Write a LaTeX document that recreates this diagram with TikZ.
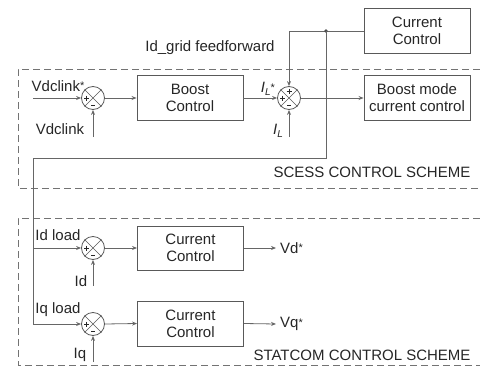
\documentclass[tikz,border=0pt]{standalone}
\usepackage{fontspec}
\setmainfont{Liberation Sans}
\usetikzlibrary{arrows.meta}
\begin{document}
\begin{tikzpicture}[x=1pt,y=-1pt,
  every node/.style={font=\fontsize{15}{17}\selectfont, text=black!85},
  blk/.style={draw=black!65, line width=0.9pt, minimum width=106pt, minimum height=45pt, align=center, inner sep=0pt},
  sumj/.style={draw=black!65, circle, minimum size=23pt, inner sep=0pt, line width=0.8pt},
  wire/.style={draw=black!60, line width=0.8pt},
  arr/.style={wire, -{Stealth[length=5pt,width=4pt]}},
  frame/.style={draw=black!55, dash pattern=on 7pt off 4pt, line width=0.8pt},
  lbl/.style={inner sep=0pt},
  xmark/.style={draw=black!65, line width=0.7pt},
  sgn/.style={draw=black!85, line width=0.9pt}
]
\useasboundingbox (0,0) rectangle (480,367);

% frames
\draw[frame] (480,69) -- (18,69) -- (18,188) -- (480,188);
\draw[frame] (480,218) -- (18,218) -- (18,365) -- (480,365);

% blocks
\node[blk] (cc0) at (417,31) {Current\\Control};
\node[blk] (bc) at (190,98) {Boost\\Control};
\node[blk] (bm) at (417,98) {Boost mode\\current control};
\node[blk, minimum height=44pt] (cc1) at (190.5,248) {Current\\Control};
\node[blk] (cc2) at (190.5,323.5) {Current\\Control};

% summing junctions
\node[sumj] (s1) at (93,98) {};
\node[sumj] (s2) at (289,98) {};
\node[sumj] (s3) at (93,248) {};
\node[sumj] (s4) at (93,324) {};
\draw[xmark] (s1.north east) -- (s1.south west) (s1.north west) -- (s1.south east);
\draw[xmark] (s2.north east) -- (s2.south west) (s2.north west) -- (s2.south east);
\draw[xmark] (s3.north east) -- (s3.south west) (s3.north west) -- (s3.south east);
\draw[xmark] (s4.north east) -- (s4.south west) (s4.north west) -- (s4.south east);
% plus (left) and minus (bottom) signs
\draw[sgn] (84,98) -- (89,98) (86.5,95.5) -- (86.5,100.5) (91,105) -- (95,105);
\draw[sgn] (280,98) -- (285,98) (282.5,95.5) -- (282.5,100.5) (287,105) -- (291,105)
           (286.5,91) -- (291.5,91) (289,88.5) -- (289,93.5);
\draw[sgn] (84,248) -- (89,248) (86.5,245.5) -- (86.5,250.5) (91,255) -- (95,255);
\draw[sgn] (84,324) -- (89,324) (86.5,321.5) -- (86.5,326.5) (91,331) -- (95,331);

% coordinates
\coordinate (vdin) at (33,98);
\coordinate (vdfb) at (93,137);
\coordinate (ilfb) at (289,137);
\coordinate (dot) at (326,31);
\coordinate (ffdown) at (326,158);
\coordinate (ffleft) at (33,158);
\coordinate (fbd) at (33,248);
\coordinate (fbq) at (33,324);
\coordinate (idfb) at (93,286);
\coordinate (iqfb) at (93,362);
\coordinate (vdout) at (276,248);
\coordinate (vqout) at (276,324);

% wires
\draw[arr] (vdin) -- (s1.west);
\draw[arr] (vdfb) -- (s1.south);
\draw[arr] (s1.east) -- (bc.west);
\draw[arr] (bc.east) -- (s2.west);
\draw[arr] (ilfb) -- (s2.south);
\draw[arr] (s2.east) -- (bm.west);
\draw[arr] (cc0.west) -| (s2.north);
\fill[black!70] (dot) circle (1.8pt);
\draw[arr] (dot) -- (ffdown) -- (ffleft) -- (fbq) -- (s4.west);
\draw[arr] (fbd) -- (s3.west);
\draw[arr] (idfb) -- (s3.south);
\draw[arr] (iqfb) -- (s4.south);
\draw[arr] (s3.east) -- (cc1.west);
\draw[arr] (s4.east) -- (cc2.west);
\draw[arr] (cc1.east) -- (vdout);
\draw[arr] (cc2.east) -- (vqout);

% labels
\node[lbl] (lvdr) at (58,86) {Vdclink\raisebox{0.2ex}{\fontsize{11}{11}\selectfont*}};
\node[lbl] (lvd) at (60,129) {Vdclink};
\node[lbl] (lff) at (210,48) {Id\_grid feedforward};
\node[lbl] (lilr) at (268,89) {\textit{I}\raisebox{-0.35ex}{\fontsize{10}{10}\selectfont\textit{L}}\raisebox{0.2ex}{\fontsize{11}{11}\selectfont*}};
\node[lbl] (lil) at (278,131) {\textit{I}\raisebox{-0.35ex}{\fontsize{10}{10}\selectfont\textit{L}}};
\node[lbl] (lscess) at (372,172) {SCESS CONTROL SCHEME};
\node[lbl] (lidl) at (58,235) {Id load};
\node[lbl] (lid) at (81,281) {Id};
\node[lbl] (liql) at (58,310) {Iq load};
\node[lbl] (liq) at (80,355) {Iq};
\node[lbl, anchor=west] (lvdo) at (280,248) {Vd\raisebox{0.2ex}{\fontsize{11}{11}\selectfont*}};
\node[lbl, anchor=west] (lvqo) at (280,324) {Vq\raisebox{0.2ex}{\fontsize{11}{11}\selectfont*}};
\node[lbl] (lstat) at (362,355) {STATCOM CONTROL SCHEME};
\end{tikzpicture}
\end{document}
